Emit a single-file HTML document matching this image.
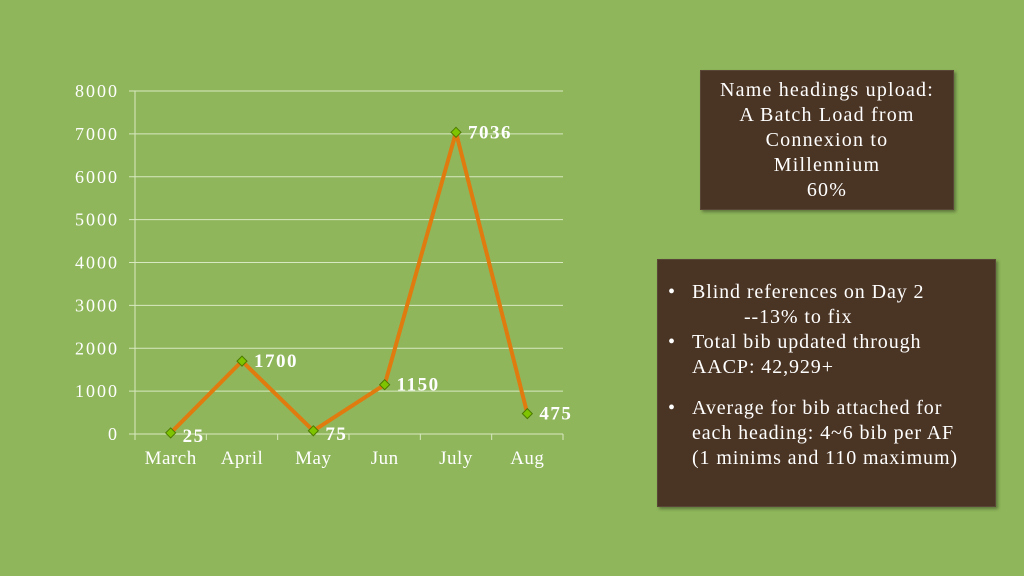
<!DOCTYPE html>
<html><head><meta charset="utf-8"><style>
body{margin:0;width:1024px;height:576px;background:#8fb65b;font-family:"Liberation Serif",serif;position:relative;overflow:hidden}
.box{position:absolute;background:#4a3424;color:#fff;box-shadow:2px 2px 3px rgba(0,0,0,.35);border:1px solid #5a4636;white-space:nowrap}
#b1{left:700px;top:70px;width:254px;height:140px;text-align:center;font-size:20px;letter-spacing:1.2px;line-height:25px;padding-top:7px;box-sizing:border-box}
#b2{left:657px;top:259px;width:339px;height:248px;font-size:20px;letter-spacing:0.9px;line-height:25px;padding:20px 0 0 10px;box-sizing:border-box}
#b2 .li{position:relative;padding-left:24px}
#b2 .li:before{content:"•";position:absolute;left:0}
</style></head><body>
<svg width="600" height="480" style="position:absolute;left:0;top:0" id="chart"></svg>
<div class="box" id="b1">Name headings upload:<br>A Batch Load from<br>Connexion to<br>Millennium<br>60%</div>
<div class="box" id="b2">
<div class="li">Blind references on Day 2<br><span style="padding-left:52px">--13% to fix</span></div>
<div class="li">Total bib updated through<br>AACP: 42,929+</div>
<div class="li" style="margin-top:16px">Average for bib attached for<br>each heading: 4~6 bib per AF<br>(1 minims and 110 maximum)</div>
</div>
<script>
const categories=["March","April","May","Jun","July","Aug"];
const values=[25,1700,75,1150,7036,475];
const yTicks=[0,1000,2000,3000,4000,5000,6000,7000,8000];
const ns="http://www.w3.org/2000/svg",svg=document.getElementById('chart');
const x0=135,x1=563,yb=434,yt=91,ymax=8000;
const bw=(x1-x0)/categories.length;
const X=i=>x0+bw*(i+0.5), Y=v=>yb-(v/ymax)*(yb-yt);
function mk(t,a,txt){const e=document.createElementNS(ns,t);for(const k in a)e.setAttribute(k,a[k]);if(txt!=null)e.textContent=txt;svg.appendChild(e);return e;}
yTicks.forEach(v=>{
 const g=mk('line',{x1:x0-6,x2:x1,y1:Y(v),y2:Y(v),stroke:'#d8e8c0','stroke-width':1});
 
 
 const t=mk('text',{x:119,y:Y(v)+6,'text-anchor':'end',fill:'#fff','font-size':18,'letter-spacing':2,'font-family':'Liberation Serif, serif'},v);
 
 
});
const ax=mk('line',{x1:x0,x2:x0,y1:yt,y2:yb,stroke:'#d8e8c0'});


for(let i=0;i<=categories.length;i++){const k=mk('line',{x1:x0+bw*i,x2:x0+bw*i,y1:yb,y2:yb+6,stroke:'#d8e8c0'});}
categories.forEach((c,i)=>{const t=mk('text',{x:X(i),y:464,'text-anchor':'middle',fill:'#fff','font-size':19,'letter-spacing':0.5,'font-family':'Liberation Serif, serif'},c);});
const p=mk('polyline',{points:values.map((v,i)=>X(i)+','+Y(v)).join(' '),fill:'none',stroke:'#e07b10','stroke-width':4,'stroke-linejoin':'round'});


values.forEach((v,i)=>{
 const x=X(i),y=Y(v);
 const m=mk('polygon',{points:`${x},${y-5} ${x+5},${y} ${x},${y+5} ${x-5},${y}`,fill:'#7fc400',stroke:'#4d7a00','stroke-width':1});
 
 
 const l=mk('text',{x:x+12,y:y+(v<200?9:6),fill:'#fff','font-size':19,'letter-spacing':1.5,'font-weight':'bold','font-family':'Liberation Serif, serif'},v);
 
 
});
</script>
</body></html>
